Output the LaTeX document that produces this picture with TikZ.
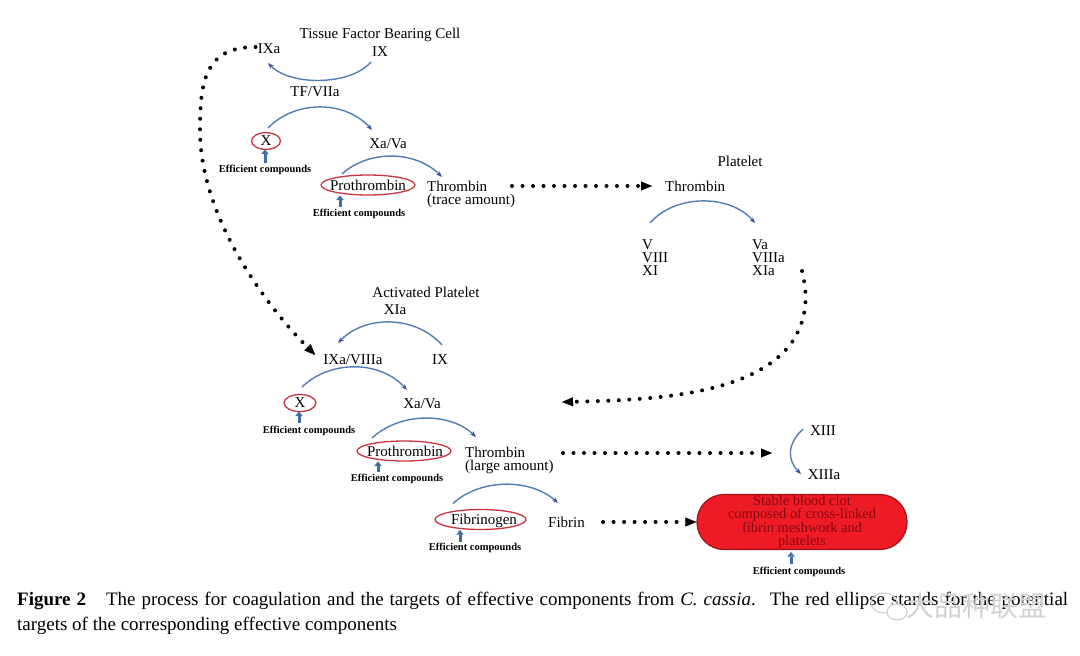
\documentclass[tikz,border=0pt]{standalone}
\usepackage{fontspec}
\setmainfont{Liberation Serif}
\newfontfamily\cjkf{Noto Sans CJK SC}
\usetikzlibrary{arrows.meta,calc}
\definecolor{arcblue}{HTML}{4F7DB8}
\definecolor{tipblue}{HTML}{3C4E9E}
\definecolor{ellred}{HTML}{CC3340}
\definecolor{upblue}{HTML}{3D6EA6}
\definecolor{clotred}{HTML}{EE1B24}
\definecolor{clotedge}{HTML}{9E1218}
\definecolor{clottext}{HTML}{860A12}
\begin{document}
\begin{tikzpicture}[x=1pt,y=-1pt,
  lbl/.style={inner sep=0pt,font=\fontsize{15}{13}\selectfont},
  ecmp/.style={inner sep=0pt,font=\fontsize{10.5}{12}\selectfont\bfseries},
  barc/.style={draw=arcblue,line width=1.4pt,-{Stealth[length=6pt,width=4.5pt,color=tipblue]}},
  tgt/.style={draw=ellred,line width=1.3pt},
  uparr/.style={draw=upblue,line width=3pt,-{Triangle[length=4.5pt,width=7pt,line width=0.1pt]}},
  dotarr/.style={draw=black,line width=4pt,line cap=round,dash pattern=on 0pt off 10.5pt,-{Triangle[length=11pt,width=9pt,line width=0.1pt]}},
  clot/.style={draw=clotedge,line width=1.2pt,fill=clotred,rounded corners=27pt,minimum width=210pt,minimum height=55pt,inner sep=0pt,align=center,text=clottext,font=\fontsize{14.4}{13}\selectfont},
  captxt/.style={anchor=west,inner sep=0pt,font=\fontsize{19}{25}\selectfont},
]
\useasboundingbox[fill=white] (0,0) rectangle (1080,656);

% ---------- Tissue factor bearing cell ----------
\node[lbl] (tfbc) at (380,35) {Tissue Factor Bearing Cell};
\node[lbl] (ixa1) at (269,49) {IXa};
\node[lbl] (ix1) at (380,52) {IX};
\node[lbl] (tf) at (315,92) {TF/VIIa};
\node[lbl] (x1) at (266,141) {X};
\node[lbl] (xava1) at (388,144) {Xa/Va};
\node[lbl] (pro1) at (368,185) {Prothrombin};
\node[lbl,anchor=north west,align=left] (thr1) at (427,181) {Thrombin\\(trace amount)};
\node[ecmp] (ec1) at (265,169.5) {Efficient compounds};
\node[ecmp] (ec2) at (359,213.5) {Efficient compounds};

\draw[tgt] (x1.center) ellipse [x radius=14.5,y radius=8.3];
\draw[tgt] (pro1.center) ellipse [x radius=47,y radius=10];

\draw[barc] ($(ix1)+(-9,10)$) .. controls +(-21,24) and +(22,23) .. ($(ixa1)+(-1,14)$);
\draw[barc] ($(x1)+(2,-13)$) .. controls +(27,-28) and +(-27,-30) .. ($(xava1)+(-16,-14)$);
\draw[barc] ($(pro1)+(-26,-11)$) .. controls +(26,-24) and +(-27,-27) .. ($(thr1.north west)+(15,-4)$);

\draw[uparr] ($(x1)+(-1,21.5)$) -- ($(x1)+(-1,8.5)$);
\draw[uparr] ($(pro1)+(-28,22)$) -- ($(pro1)+(-28,10.5)$);

% ---------- Platelet ----------
\node[lbl] (plt) at (740,161) {Platelet};
\node[lbl,anchor=west] (thrp) at (665,186) {Thrombin};
\node[lbl,anchor=north west,align=left] (vn) at (642,239) {V\\VIII\\XI};
\node[lbl,anchor=north west,align=left] (va) at (752,239) {Va\\VIIIa\\XIa};
\draw[barc] ($(vn.north west)+(8,-16)$) .. controls +(25,-29) and +(-25,-29) .. ($(va.north west)+(3,-16)$);

% ---------- Activated platelet ----------
\node[lbl] (ap) at (426,292) {Activated Platelet};
\node[lbl] (xia) at (395,310) {XIa};
\node[lbl] (ixv) at (353,360) {IXa/VIIIa};
\node[lbl] (ix2) at (440,360) {IX};
\node[lbl] (x2) at (300,403) {X};
\node[lbl] (xava2) at (422,404) {Xa/Va};
\node[lbl] (pro2) at (405,451) {Prothrombin};
\node[lbl,anchor=north west,align=left] (thr2) at (465,447) {Thrombin\\(large amount)};
\node[ecmp] (ec3) at (309,430.5) {Efficient compounds};
\node[ecmp] (ec4) at (397,478.5) {Efficient compounds};

\draw[tgt] (x2.center) ellipse [x radius=16,y radius=8.5];
\draw[tgt] ($(pro2)+(-1,0)$) ellipse [x radius=47,y radius=10];

\draw[barc] ($(ix2)+(2,-15)$) .. controls +(-27,-30) and +(27,-28) .. ($(ixv)+(-15,-17)$);
\draw[barc] ($(x2)+(2,-16)$) .. controls +(28,-27) and +(-27,-30) .. ($(xava2)+(-15,-14)$);
\draw[barc] ($(pro2)+(-33,-13)$) .. controls +(28,-26) and +(-26,-25) .. ($(thr2.north west)+(11,-10)$);

\draw[uparr] ($(x2)+(-1,19.5)$) -- ($(x2)+(-1,8.5)$);
\draw[uparr] ($(pro2)+(-27,20.5)$) -- ($(pro2)+(-27,10.5)$);

% ---------- XIII and clot ----------
\node[lbl] (xiii) at (823,431) {XIII};
\node[lbl] (xiiia) at (824,475) {XIIIa};
\draw[barc] ($(xiii)+(-20,-2)$) .. controls +(-16,15) and +(-14,-14) .. ($(xiiia)+(-23,-1)$);

\node[lbl] (fbg) at (484,520.5) {Fibrinogen};
\node[lbl,anchor=west] (fib) at (548,522) {Fibrin};
\node[ecmp] (ec5) at (475,547.5) {Efficient compounds};
\draw[tgt] ($(fbg)+(-3.5,-1)$) ellipse [x radius=45.5,y radius=10];
\draw[barc] ($(fbg)+(-31,-17)$) .. controls +(27,-25) and +(-28,-25) .. ($(fib.west)+(10,-19)$);
\draw[uparr] ($(fbg)+(-24,21)$) -- ($(fbg)+(-24,9.5)$);

\node[clot] (clotn) at (802,522) {Stable blood clot\\composed of cross-linked\\fibrin meshwork and\\platelets};
\node[ecmp] (ec6) at (799,571.5) {Efficient compounds};
\draw[uparr] ($(clotn.south)+(-11,13.5)$) -- ($(clotn.south)+(-11,2)$);

% ---------- dotted connectors ----------
\coordinate (rin) at (562,402);
\coordinate (xin) at (772,453);
\draw[dotarr] ($(thr1.north west)+(85,5)$) -- ($(thrp.west)+(-13,0)$);
\draw[dotarr] ($(ixa1.west)+(-2,-2)$) .. controls +(-50,0) and +(0,-50) .. (200,130) .. controls +(0,90) and +(-45,-45) .. ($(ixv.west)+(-8,-5)$);
\draw[dotarr] ($(va.north west)+(50,32)$) .. controls +(6,24) and +(18,-25) .. (790,345) .. controls +(-40,50) and +(92,-2) .. (rin);
\draw[dotarr] ($(thr2.north west)+(98,6)$) -- (xin);
\draw[dotarr] ($(fib.east)+(18,0)$) -- (clotn.west);

% ---------- caption ----------
\node[captxt] (cap1) at (17,601) {\makebox[1051pt][s]{\textbf{Figure 2}\hspace{20pt}The process for coagulation and the targets of effective components from \textit{C. cassia}.\hspace{14pt}The red ellipse stands for the potential}};
\node[captxt] (cap2) at (17,626) {targets of the corresponding effective components};

% ---------- watermark ----------
\begin{scope}[draw=gray!40,line width=1pt]
\draw (884,603) ellipse [x radius=13,y radius=10];
\draw[fill=white] (897,612) ellipse [x radius=10,y radius=8];
\end{scope}
\node[inner sep=0pt,font=\cjkf\fontsize{28}{28}\selectfont,text=gray!35] (wm) at (976,606) {大品种联盟};
\end{tikzpicture}
\end{document}
